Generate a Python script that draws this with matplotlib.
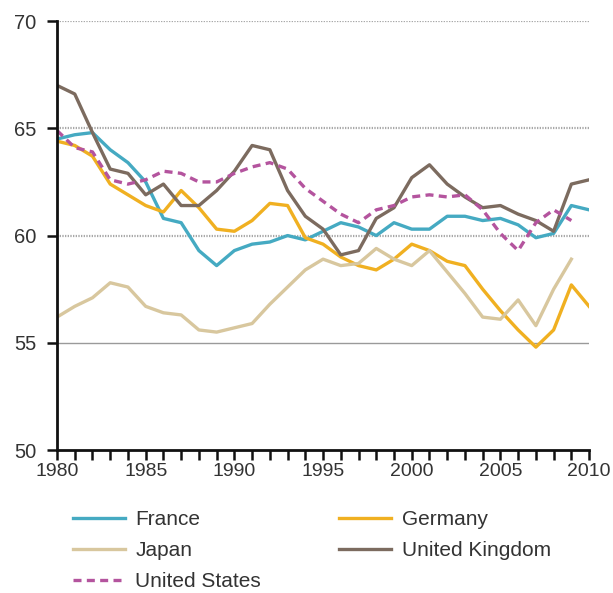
import matplotlib
matplotlib.use("Agg")
import matplotlib.pyplot as plt

plt.rcParams['font.family'] = ['Liberation Sans', 'DejaVu Sans']

years = list(range(1980, 2011))

france = [64.5, 64.7, 64.8, 64.0, 63.4, 62.5, 60.8, 60.6, 59.3, 58.6, 59.3, 59.6, 59.7,
          60.0, 59.8, 60.2, 60.6, 60.4, 60.0, 60.6, 60.3, 60.3, 60.9, 60.9, 60.7, 60.8,
          60.5, 59.9, 60.1, 61.4, 61.2]
germany = [64.4, 64.2, 63.7, 62.4, 61.9, 61.4, 61.1, 62.1, 61.3, 60.3, 60.2, 60.7, 61.5,
           61.4, 59.9, 59.6, 59.0, 58.6, 58.4, 58.9, 59.6, 59.3, 58.8, 58.6, 57.5, 56.5,
           55.6, 54.8, 55.6, 57.7, 56.7]
japan = [56.2, 56.7, 57.1, 57.8, 57.6, 56.7, 56.4, 56.3, 55.6, 55.5, 55.7, 55.9, 56.8,
         57.6, 58.4, 58.9, 58.6, 58.7, 59.4, 58.9, 58.6, 59.3, 58.3, 57.3, 56.2, 56.1,
         57.0, 55.8, 57.5, 58.9]
uk = [67.0, 66.6, 64.8, 63.1, 62.9, 61.9, 62.4, 61.4, 61.4, 62.1, 63.0, 64.2, 64.0,
      62.1, 60.9, 60.3, 59.1, 59.3, 60.8, 61.3, 62.7, 63.3, 62.4, 61.8, 61.3, 61.4,
      61.0, 60.7, 60.2, 62.4, 62.6]
us = [64.9, 64.1, 63.9, 62.6, 62.4, 62.6, 63.0, 62.9, 62.5, 62.5, 62.9, 63.2, 63.4,
      63.1, 62.2, 61.6, 61.0, 60.6, 61.2, 61.4, 61.8, 61.9, 61.8, 61.9, 61.2, 60.1,
      59.3, 60.6, 61.2, 60.7]

yticks = [50, 55, 60, 65, 70]
xlabels = [1980, 1985, 1990, 1995, 2000, 2005, 2010]

fig = plt.figure(figsize=(6.13, 5.93), dpi=100)
ax = fig.add_axes([0.093, 0.241, 0.868, 0.7235])

# reference lines
for v in [60, 65, 70]:
    ax.axhline(v, color='#a8a8a8', lw=1.6, ls=(0, (0.6, 0.6)), zorder=1)
ax.axhline(55, color='#9a9a9a', lw=1.0, zorder=1)

lw = 2.4
l_fr, = ax.plot(years, france, color='#45aac2', lw=lw, label='France')
l_de, = ax.plot(years, germany, color='#f0b021', lw=lw, label='Germany')
l_jp, = ax.plot(years[:len(japan)], japan, color='#d8c79e', lw=lw, label='Japan')
l_uk, = ax.plot(years, uk, color='#7c6b5f', lw=lw, label='United Kingdom')
l_us, = ax.plot(years[:len(us)], us, color='#b4549e', lw=lw, ls=(0, (2.4, 1.6)),
                label='United States')

ax.set_xlim(1980, 2010)
ax.set_ylim(50, 70)
ax.set_yticks(yticks)
ax.set_xticks(years, minor=False)
ax.set_xticklabels([str(y) if y in xlabels else '' for y in years])

for s in ['top', 'right']:
    ax.spines[s].set_visible(False)
for s in ['left', 'bottom']:
    ax.spines[s].set_linewidth(2)
    ax.spines[s].set_color('#111111')

ax.tick_params(axis='both', direction='out', width=1.8, length=7, colors='#111111',
               labelcolor='#333333', labelsize=14)
ax.tick_params(axis='x', pad=2)
ax.tick_params(axis='y', pad=8, labelsize=14.5)

fig.legend([l_fr, l_jp, l_us, l_de, l_uk],
           ['France', 'Japan', 'United States', 'Germany', 'United Kingdom'],
           ncol=2, loc='upper left', bbox_to_anchor=(0.105, 0.154), frameon=False,
           fontsize=15, handlelength=2.5, handletextpad=0.5, columnspacing=3.75,
           labelspacing=0.58, labelcolor='#333333', borderaxespad=0)

fig.savefig('out.png', dpi=100, facecolor='white')
